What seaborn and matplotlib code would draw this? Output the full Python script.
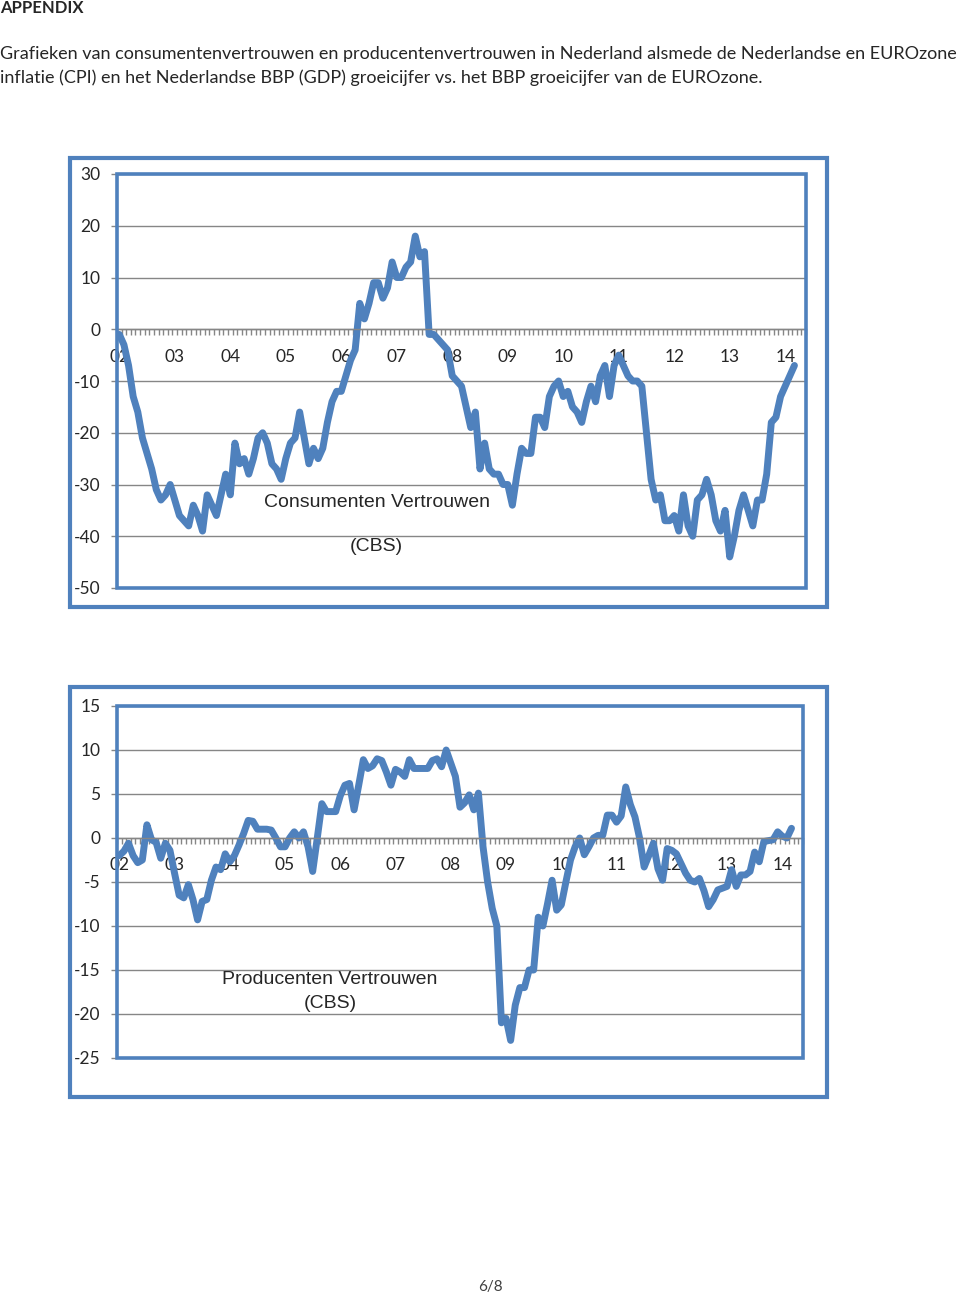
import numpy as np
import pandas as pd
import matplotlib
matplotlib.use("Agg")
import matplotlib.pyplot as plt
import seaborn as sns
from matplotlib.patches import Rectangle

# Data (monthly, Jan 2002 .. Mar 2014)

year_labels = ["02", "03", "04", "05", "06", "07", "08",
               "09", "10", "11", "12", "13", "14"]

consumenten = [
    -1, -3, -7, -13, -16, -21, -24, -27, -31, -33, -32, -30,
    -33, -36, -37, -38, -34, -36, -39, -32, -34, -36, -32, -28,
    -32, -22, -26, -25, -28, -25, -21, -20, -22, -26, -27, -29,
    -25, -22, -21, -16, -21, -26, -23, -25, -23, -18, -14, -12,
    -12, -9, -6, -4, 5, 2, 5, 9, 9, 6, 8, 13,
    10, 10, 12, 13, 18, 14, 15, -1, -1, -2, -3, -4,
    -9, -10, -11, -15, -19, -16, -27, -22, -27, -28, -28, -30,
    -30, -34, -28, -23, -24, -24, -17, -17, -19, -13, -11, -10,
    -13, -12, -15, -16, -18, -14, -11, -14, -9, -7, -13, -7,
    -5, -7, -9, -10, -10, -11, -20, -29, -33, -32, -37, -37,
    -36, -39, -32, -38, -40, -33, -32, -29, -32, -37, -39, -35,
    -44, -40, -35, -32, -35, -38, -33, -33, -28, -18, -17, -13,
    -11, -9, -7,
]

producenten = [
    -2, -1.5, -0.6, -2, -2.8, -2.5, 1.5, -0.2, -0.5, -2.3, -0.6, -1.4,
    -4, -6.5, -6.8, -5.3, -7, -9.3, -7.2, -7, -4.8, -3.3, -3.6, -1.8,
    -2.7, -2, -0.8, 0.5, 2, 1.9, 1, 1, 1, 0.9, 0, -1,
    -1, 0, 0.7, 0, 0.7, -1, -3.8, 0, 3.9, 3, 3, 3,
    4.8, 6, 6.2, 3.2, 6, 8.9, 7.9, 8.2, 9, 8.8, 7.5, 6,
    7.8, 7.5, 7, 8.9, 7.9, 7.9, 7.9, 7.9, 8.8, 9, 8.1, 10,
    8.5, 7, 3.5, 4, 4.9, 3.2, 5.1, -1, -5, -8, -10, -21,
    -20.5, -23, -19, -17, -17, -15, -15, -9, -10, -7.5, -4.8, -8.2,
    -7.6, -5, -2.5, -1, 0, -1.9, -1, 0, 0.3, 0.3, 2.6, 2.6,
    1.8, 2.5, 5.8, 3.8, 2.4, 0, -3.3, -2, -0.6, -3.5, -4.8, -1.2,
    -1.4, -1.8, -2.9, -4, -4.8, -5, -4.6, -6, -7.8, -7, -5.9, -5.7,
    -5.5, -3.6, -5.5, -4.2, -4.2, -3.8, -1.6, -2.7, -0.4, -0.3, -0.2, 0.7,
    0.2, 0, 1.1,
]

# Style

sns.set_style("white")
plt.rcParams["font.family"] = ["Lato", "DejaVu Sans"]
plt.rcParams["axes.unicode_minus"] = False

BLUE = "#4F81BD"
GRID = "#868686"
W, H = 960, 1296
N_CAT = 149

fig = plt.figure(figsize=(W / 100, H / 100), dpi=100)


def fx(px):
    return px / W


def fy(py):
    return 1 - py / H


def frame(x0, y0, x1, y1, lw):
    fig.patches.append(Rectangle(
        (fx(x0), fy(y1)), fx(x1) - fx(x0), fy(y0) - fy(y1),
        transform=fig.transFigure, fill=False,
        edgecolor=BLUE, linewidth=lw
    ))


def panel(box, values, ymin, ymax, step):
    x0, y0, x1, y1 = box
    ax = fig.add_axes([fx(x0), fy(y1), fx(x1) - fx(x0), fy(y0) - fy(y1)])

    df = pd.DataFrame({
        "maand": np.arange(len(values)),
        "waarde": values
    })

    ax.set_xlim(-0.5, N_CAT - 0.5)
    ax.set_ylim(ymin, ymax)
    ax.set_yticks(np.arange(ymin, ymax + 1, step))
    ax.grid(axis="y", color=GRID, linewidth=1)
    ax.set_axisbelow(True)

    sns.lineplot(
        data=df, x="maand", y="waarde", ax=ax,
        color=BLUE, linewidth=5,
        solid_joinstyle="round", solid_capstyle="round"
    )
    ax.set_xlabel("")
    ax.set_ylabel("")

    # category axis drawn on the zero line
    for s in ["top", "right", "left"]:
        ax.spines[s].set_visible(False)
    ax.spines["bottom"].set_position(("data", 0))
    ax.spines["bottom"].set_color(GRID)
    ax.spines["bottom"].set_linewidth(1)

    ax.set_xticks(np.arange(0, 12 * len(year_labels), 12))
    ax.set_xticklabels(year_labels)
    ax.set_xticks(np.arange(-0.5, N_CAT, 1), minor=True)
    ax.tick_params(axis="x", which="major", length=0, pad=14, labelsize=12.5)
    ax.tick_params(axis="x", which="minor", bottom=True, direction="out",
                   length=4, width=1, color=GRID)
    ax.tick_params(axis="y", left=True, length=4, width=1, color=GRID,
                   pad=8, labelsize=12.5)

    ax.add_patch(Rectangle(
        (0, 0), 1, 1, transform=ax.transAxes, fill=False,
        edgecolor=BLUE, linewidth=2.6, clip_on=False, zorder=5
    ))
    return ax


# Header text

fig.text(fx(0), fy(8), "APPENDIX", fontsize=12, fontweight="bold",
         va="center", ha="left")
fig.text(fx(0), fy(54),
         "Grafieken van consumentenvertrouwen en producentenvertrouwen in "
         "Nederland alsmede de Nederlandse en EUROzone",
         fontsize=13, va="center", ha="left")
fig.text(fx(0), fy(78),
         "inflatie (CPI) en het Nederlandse BBP (GDP) groeicijfer vs. het BBP "
         "groeicijfer van de EUROzone.",
         fontsize=13, va="center", ha="left")

# Chart 1: consumer confidence

frame(70, 158, 827, 607, 3)
panel((117, 174, 806, 588), consumenten, -50, 30, 10)
fig.text(fx(377), fy(502), "Consumenten Vertrouwen",
         family="Liberation Sans", fontsize=14, ha="center", va="center")
fig.text(fx(376), fy(547), "(CBS)",
         family="Liberation Sans", fontsize=14, ha="center", va="center")

# Chart 2: producer confidence

frame(70, 687, 827, 1097, 3)
panel((117, 706, 803, 1058), producenten, -25, 15, 5)
fig.text(fx(330), fy(980), "Producenten Vertrouwen",
         family="Liberation Sans", fontsize=14, ha="center", va="center")
fig.text(fx(330), fy(1003), "(CBS)",
         family="Liberation Sans", fontsize=14, ha="center", va="center")

# Footer

fig.text(fx(490), fy(1287), "6/8", fontsize=11, ha="center", va="center",
         color="#404040")

fig.savefig("out.png", dpi=100)
